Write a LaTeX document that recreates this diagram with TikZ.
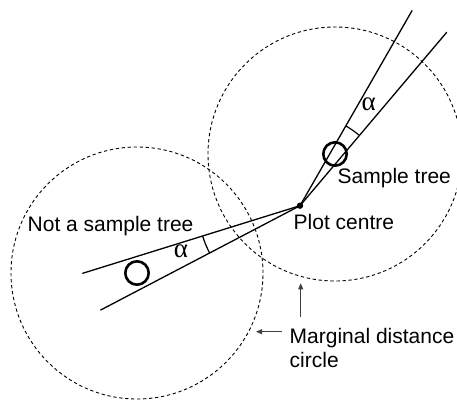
\documentclass[tikz,border=0pt]{standalone}
\usepackage{fontspec}
\setmainfont{Liberation Sans}
\newfontfamily\greekfont{Liberation Serif}
\usetikzlibrary{arrows.meta,calc}
\tikzset{
  lbl/.style={inner sep=0pt, anchor=base west, font=\fontsize{21}{23.3}\selectfont},
  alph/.style={inner sep=0pt, font=\greekfont\fontsize{27}{29}\selectfont},
  ray/.style={line width=1.3pt, line cap=round},
  margin/.style={line width=0.9pt, dash pattern=on 3.3pt off 2.7pt},
  tree/.style={line width=2.6pt},
  pointer/.style={line width=1pt, draw=black!75, -{Triangle[length=6pt,width=5pt]}},
}
\begin{document}
\begin{tikzpicture}[x=1pt,y=1pt]
\useasboundingbox (0,0) rectangle (457,399);
% key points
\coordinate (pc) at (300,193.3);
\coordinate (rt) at (335,245);
\coordinate (lt) at (137,126);
\coordinate (r1) at (412,388.3);
\coordinate (r2) at (446.7,366.7);
\coordinate (l1) at (82.7,125.7);
\coordinate (l2) at (100.7,89);
% marginal distance circles
\begin{scope}
\clip (0,0) rectangle (457,399);
\draw[margin] (rt) circle[radius=127];
\draw[margin] (lt) circle[radius=126];
\end{scope}
% rays
\draw[ray] (pc) -- (r1);
\draw[ray] (pc) -- (r2);
\draw[ray] (pc) -- (l1);
\draw[ray] (pc) -- (l2);
% angle arcs
\draw[line width=1.2pt] ($(pc)+(49.8:92)$) arc[start angle=49.8, end angle=60.1, radius=92];
\draw[line width=1.2pt] ($(pc)+(197.3:102)$) arc[start angle=197.3, end angle=207.6, radius=102];
% trees
\draw[tree] (rt) circle[radius=11.7];
\draw[tree] (lt) circle[radius=11.7];
% plot centre dot
\fill (pc) circle[radius=3.2];
% labels
\node[alph] (ar) at (368.8,294.8) {α};
\node[alph] (al) at (181,147.7) {α};
\node[lbl] (st) at (337.5,215) {Sample tree};
\node[lbl] (pl) at (293.5,169.7) {Plot centre};
\node[lbl] (ns) at (27.5,167.8) {Not a sample tree};
\node[lbl, align=left, anchor=north west] (md) at (289.5,70.5) {Marginal distance\\circle};
% pointers
\coordinate (vt) at (300.7,115.7);
\coordinate (vs) at (300.7,82.3);
\coordinate (ht) at (256,67.3);
\coordinate (hs) at (281.7,67.3);
\draw[pointer] (vs) -- (vt);
\draw[pointer] (hs) -- (ht);
\end{tikzpicture}
\end{document}
